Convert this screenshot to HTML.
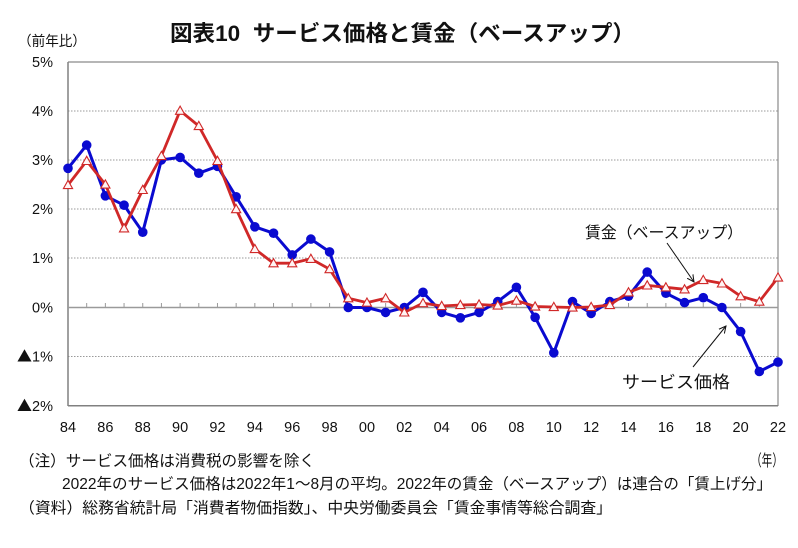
<!DOCTYPE html>
<html><head><meta charset="utf-8"><style>
html,body{margin:0;padding:0;background:#fff;}
svg{display:block;}
text{font-family:"Liberation Sans","Noto Sans CJK JP",sans-serif;fill:#111;}
.cjk{font-family:"Noto Sans CJK JP",sans-serif;}
</style></head><body>
<svg width="798" height="548" viewBox="0 0 798 548" xmlns="http://www.w3.org/2000/svg">
<defs>
<polygon id="t" points="0,-4.6 -4.6,3.6 4.6,3.6" fill="#fff4f4" stroke="#d02828" stroke-width="1.1"/>
<marker id="ah" markerWidth="8" markerHeight="8" refX="7" refY="4" orient="auto" markerUnits="userSpaceOnUse">
<path d="M0,0.5 L7,4 L0,7.5" fill="none" stroke="#111" stroke-width="1"/>
</marker>
</defs>
<!-- title -->
<text x="170" y="41" font-size="22" font-weight="bold" textLength="465" lengthAdjust="spacingAndGlyphs">図表10&#160;&#160;サービス価格と賃金（ベースアップ）</text>
<text x="18" y="46" font-size="14" textLength="68" lengthAdjust="spacingAndGlyphs">（前年比）</text>
<!-- grid -->
<g stroke="#9a9a9a" stroke-width="1" stroke-dasharray="1.5,1.5" fill="none">
<line x1="68" y1="111" x2="778" y2="111"/>
<line x1="68" y1="160" x2="778" y2="160"/>
<line x1="68" y1="209" x2="778" y2="209"/>
<line x1="68" y1="258" x2="778" y2="258"/>
<line x1="68" y1="356.5" x2="778" y2="356.5"/>
</g>
<line x1="68" y1="62" x2="778" y2="62" stroke="#8a8a8a" stroke-width="1.2"/>
<line x1="778" y1="62" x2="778" y2="406" stroke="#8a8a8a" stroke-width="1.2"/>
<line x1="68" y1="62" x2="68" y2="406" stroke="#808080" stroke-width="1.5"/>
<line x1="68" y1="405.7" x2="778" y2="405.7" stroke="#808080" stroke-width="1.5"/>
<line x1="68" y1="307.5" x2="778" y2="307.5" stroke="#9a9a9a" stroke-width="1.5"/>
<!-- ticks -->
<g stroke="#9a9a9a" stroke-width="1">
<line x1="86.68" y1="303" x2="86.68" y2="307.5"/><line x1="105.37" y1="303" x2="105.37" y2="307.5"/><line x1="124.05" y1="303" x2="124.05" y2="307.5"/><line x1="142.74" y1="303" x2="142.74" y2="307.5"/><line x1="161.42" y1="303" x2="161.42" y2="307.5"/><line x1="180.11" y1="303" x2="180.11" y2="307.5"/><line x1="198.79" y1="303" x2="198.79" y2="307.5"/><line x1="217.47" y1="303" x2="217.47" y2="307.5"/><line x1="236.16" y1="303" x2="236.16" y2="307.5"/><line x1="254.84" y1="303" x2="254.84" y2="307.5"/><line x1="273.53" y1="303" x2="273.53" y2="307.5"/><line x1="292.21" y1="303" x2="292.21" y2="307.5"/><line x1="310.89" y1="303" x2="310.89" y2="307.5"/><line x1="329.58" y1="303" x2="329.58" y2="307.5"/><line x1="348.26" y1="303" x2="348.26" y2="307.5"/><line x1="366.95" y1="303" x2="366.95" y2="307.5"/><line x1="385.63" y1="303" x2="385.63" y2="307.5"/><line x1="404.32" y1="303" x2="404.32" y2="307.5"/><line x1="423" y1="303" x2="423" y2="307.5"/><line x1="441.68" y1="303" x2="441.68" y2="307.5"/><line x1="460.37" y1="303" x2="460.37" y2="307.5"/><line x1="479.05" y1="303" x2="479.05" y2="307.5"/><line x1="497.74" y1="303" x2="497.74" y2="307.5"/><line x1="516.42" y1="303" x2="516.42" y2="307.5"/><line x1="535.11" y1="303" x2="535.11" y2="307.5"/><line x1="553.79" y1="303" x2="553.79" y2="307.5"/><line x1="572.47" y1="303" x2="572.47" y2="307.5"/><line x1="591.16" y1="303" x2="591.16" y2="307.5"/><line x1="609.84" y1="303" x2="609.84" y2="307.5"/><line x1="628.53" y1="303" x2="628.53" y2="307.5"/><line x1="647.21" y1="303" x2="647.21" y2="307.5"/><line x1="665.89" y1="303" x2="665.89" y2="307.5"/><line x1="684.58" y1="303" x2="684.58" y2="307.5"/><line x1="703.26" y1="303" x2="703.26" y2="307.5"/><line x1="721.95" y1="303" x2="721.95" y2="307.5"/><line x1="740.63" y1="303" x2="740.63" y2="307.5"/><line x1="759.32" y1="303" x2="759.32" y2="307.5"/>
</g>
<!-- y labels -->
<g font-size="14.5" text-anchor="end">
<text x="53" y="67">5%</text>
<text x="53" y="116">4%</text>
<text x="53" y="165">3%</text>
<text x="53" y="214">2%</text>
<text x="53" y="263">1%</text>
<text x="53" y="312.5">0%</text>
<text x="53" y="361.5"><tspan class="cjk" font-size="15">▲</tspan>1%</text>
<text x="53" y="411"><tspan class="cjk" font-size="15">▲</tspan>2%</text>
</g>
<!-- x labels -->
<g font-size="14.5" text-anchor="middle">
<text x="68" y="432">84</text><text x="105.37" y="432">86</text><text x="142.74" y="432">88</text><text x="180.11" y="432">90</text><text x="217.47" y="432">92</text><text x="254.84" y="432">94</text><text x="292.21" y="432">96</text><text x="329.58" y="432">98</text><text x="366.95" y="432">00</text><text x="404.32" y="432">02</text><text x="441.68" y="432">04</text><text x="479.05" y="432">06</text><text x="516.42" y="432">08</text><text x="553.79" y="432">10</text><text x="591.16" y="432">12</text><text x="628.53" y="432">14</text><text x="665.89" y="432">16</text><text x="703.26" y="432">18</text><text x="740.63" y="432">20</text><text x="778" y="432">22</text>
</g>
<!-- blue series -->
<polyline fill="none" stroke="#0a0ad0" stroke-width="3" stroke-linejoin="round" points="68,168.3 86.68,145.1 105.37,195.8 124.05,205.2 142.74,232.2 161.42,159.9 180.11,157.4 198.79,173.2 217.47,166.3 236.16,196.8 254.84,226.8 273.53,233.2 292.21,254.9 310.89,239.1 329.58,251.9 348.26,307.5 366.95,307.5 385.63,312.4 404.32,307.5 423,292.3 441.68,312.4 460.37,317.8 479.05,312.4 497.74,301.6 516.42,287.3 535.11,317.3 553.79,352.8 572.47,301.6 591.16,313.4 609.84,301.6 628.53,296.2 647.21,272.1 665.89,293.2 684.58,302.6 703.26,297.7 721.95,307.5 740.63,331.6 759.32,371.5 778,362.1"/>
<g fill="#0a0ad0">
<circle cx="68" cy="168.3" r="4.8"/><circle cx="86.68" cy="145.1" r="4.8"/><circle cx="105.37" cy="195.8" r="4.8"/><circle cx="124.05" cy="205.2" r="4.8"/><circle cx="142.74" cy="232.2" r="4.8"/><circle cx="161.42" cy="159.9" r="4.8"/><circle cx="180.11" cy="157.4" r="4.8"/><circle cx="198.79" cy="173.2" r="4.8"/><circle cx="217.47" cy="166.3" r="4.8"/><circle cx="236.16" cy="196.8" r="4.8"/><circle cx="254.84" cy="226.8" r="4.8"/><circle cx="273.53" cy="233.2" r="4.8"/><circle cx="292.21" cy="254.9" r="4.8"/><circle cx="310.89" cy="239.1" r="4.8"/><circle cx="329.58" cy="251.9" r="4.8"/><circle cx="348.26" cy="307.5" r="4.8"/><circle cx="366.95" cy="307.5" r="4.8"/><circle cx="385.63" cy="312.4" r="4.8"/><circle cx="404.32" cy="307.5" r="4.8"/><circle cx="423" cy="292.3" r="4.8"/><circle cx="441.68" cy="312.4" r="4.8"/><circle cx="460.37" cy="317.8" r="4.8"/><circle cx="479.05" cy="312.4" r="4.8"/><circle cx="497.74" cy="301.6" r="4.8"/><circle cx="516.42" cy="287.3" r="4.8"/><circle cx="535.11" cy="317.3" r="4.8"/><circle cx="553.79" cy="352.8" r="4.8"/><circle cx="572.47" cy="301.6" r="4.8"/><circle cx="591.16" cy="313.4" r="4.8"/><circle cx="609.84" cy="301.6" r="4.8"/><circle cx="628.53" cy="296.2" r="4.8"/><circle cx="647.21" cy="272.1" r="4.8"/><circle cx="665.89" cy="293.2" r="4.8"/><circle cx="684.58" cy="302.6" r="4.8"/><circle cx="703.26" cy="297.7" r="4.8"/><circle cx="721.95" cy="307.5" r="4.8"/><circle cx="740.63" cy="331.6" r="4.8"/><circle cx="759.32" cy="371.5" r="4.8"/><circle cx="778" cy="362.1" r="4.8"/>
</g>
<!-- red series -->
<polyline fill="none" stroke="#d02828" stroke-width="2.8" stroke-linejoin="round" points="68,185 86.68,160.9 105.37,184.5 124.05,228.3 142.74,189.9 161.42,156 180.11,110.7 198.79,126 217.47,160.9 236.16,209.1 254.84,249 273.53,263.2 292.21,263.2 310.89,258.8 329.58,269.1 348.26,298.2 366.95,302.6 385.63,298.2 404.32,312.4 423,303.1 441.68,306 460.37,305 479.05,304.5 497.74,305.5 516.42,300.6 535.11,306.5 553.79,307 572.47,307.5 591.16,307 609.84,305 628.53,292.3 647.21,285.4 665.89,287.3 684.58,289.3 703.26,280 721.95,283.4 740.63,296.2 759.32,301.6 778,277.5"/>
<g>
<use href="#t" x="68" y="185"/><use href="#t" x="86.68" y="160.9"/><use href="#t" x="105.37" y="184.5"/><use href="#t" x="124.05" y="228.3"/><use href="#t" x="142.74" y="189.9"/><use href="#t" x="161.42" y="156"/><use href="#t" x="180.11" y="110.7"/><use href="#t" x="198.79" y="126"/><use href="#t" x="217.47" y="160.9"/><use href="#t" x="236.16" y="209.1"/><use href="#t" x="254.84" y="249"/><use href="#t" x="273.53" y="263.2"/><use href="#t" x="292.21" y="263.2"/><use href="#t" x="310.89" y="258.8"/><use href="#t" x="329.58" y="269.1"/><use href="#t" x="348.26" y="298.2"/><use href="#t" x="366.95" y="302.6"/><use href="#t" x="385.63" y="298.2"/><use href="#t" x="404.32" y="312.4"/><use href="#t" x="423" y="303.1"/><use href="#t" x="441.68" y="306"/><use href="#t" x="460.37" y="305"/><use href="#t" x="479.05" y="304.5"/><use href="#t" x="497.74" y="305.5"/><use href="#t" x="516.42" y="300.6"/><use href="#t" x="535.11" y="306.5"/><use href="#t" x="553.79" y="307"/><use href="#t" x="572.47" y="307.5"/><use href="#t" x="591.16" y="307"/><use href="#t" x="609.84" y="305"/><use href="#t" x="628.53" y="292.3"/><use href="#t" x="647.21" y="285.4"/><use href="#t" x="665.89" y="287.3"/><use href="#t" x="684.58" y="289.3"/><use href="#t" x="703.26" y="280"/><use href="#t" x="721.95" y="283.4"/><use href="#t" x="740.63" y="296.2"/><use href="#t" x="759.32" y="301.6"/><use href="#t" x="778" y="277.5"/>
</g>
<!-- annotations -->
<text x="585" y="238" font-size="16" textLength="158" lengthAdjust="spacingAndGlyphs">賃金（ベースアップ）</text>
<line x1="667" y1="243" x2="694" y2="282" stroke="#111" stroke-width="1" marker-end="url(#ah)"/>
<text x="622" y="388" font-size="17" textLength="108" lengthAdjust="spacingAndGlyphs">サービス価格</text>
<line x1="693" y1="367" x2="726" y2="326" stroke="#111" stroke-width="1" marker-end="url(#ah)"/>
<!-- notes -->
<text x="751" y="466" font-size="16" textLength="32" lengthAdjust="spacingAndGlyphs">（年）</text>
<text x="19" y="466" font-size="15.5" textLength="296" lengthAdjust="spacingAndGlyphs">（注）サービス価格は消費税の影響を除く</text>
<text x="62" y="489" font-size="15.5" textLength="710" lengthAdjust="spacingAndGlyphs">2022年のサービス価格は2022年1～8月の平均。2022年の賃金（ベースアップ）は連合の「賃上げ分」</text>
<text x="19" y="513" font-size="15.5" textLength="593" lengthAdjust="spacingAndGlyphs">（資料）総務省統計局「消費者物価指数」、中央労働委員会「賃金事情等総合調査」</text>
</svg>
</body></html>
